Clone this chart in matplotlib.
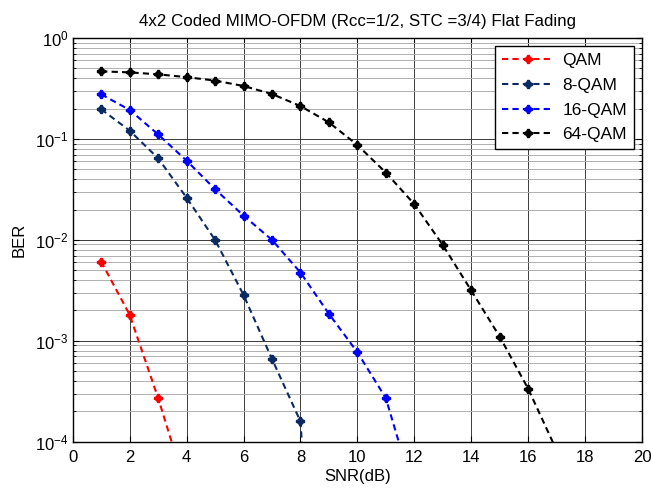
"""BER vs SNR for 4x2 coded MIMO-OFDM over a flat fading channel."""

import matplotlib

matplotlib.use("Agg")
import matplotlib.pyplot as plt  # noqa: E402
from matplotlib.legend_handler import HandlerTuple  # noqa: E402
from matplotlib.ticker import LogLocator, NullFormatter  # noqa: E402

plt.rcParams["font.family"] = ["Liberation Sans", "DejaVu Sans"]
plt.rcParams["mathtext.fontset"] = "custom"
plt.rcParams["mathtext.rm"] = "Liberation Sans"
plt.rcParams["mathtext.it"] = "Liberation Sans"

# simulated BER per modulation (SNR in dB)
snr_qam = [1, 2, 3, 4]
ber_qam = [6.1e-3, 1.81e-3, 2.71e-4, 3.3e-5]

snr_8qam = [1, 2, 3, 4, 5, 6, 7, 8, 9]
ber_8qam = [0.197, 0.121, 0.0644, 0.0262, 0.0100, 0.00285, 6.6e-4, 1.59e-4, 8e-9]

snr_16qam = [1, 2, 3, 4, 5, 6, 7, 8, 9, 10, 11, 12]
ber_16qam = [0.277, 0.194, 0.111, 0.061, 0.0318, 0.0174, 0.0100, 0.00475,
             0.00185, 7.7e-4, 2.7e-4, 3.0e-5]

snr_64qam = list(range(1, 18))
ber_64qam = [0.468, 0.457, 0.437, 0.41, 0.379, 0.335, 0.279, 0.212, 0.146,
             0.0872, 0.0464, 0.0226, 0.0089, 0.00315, 0.0011, 3.35e-4, 8.2e-5]

series = [
    ("QAM", snr_qam, ber_qam, "#ff0000"),
    ("8-QAM", snr_8qam, ber_8qam, "#0c2a62"),
    ("16-QAM", snr_16qam, ber_16qam, "#0000ff"),
    ("64-QAM", snr_64qam, ber_64qam, "#000000"),
]

fig = plt.figure(figsize=(6.51, 4.88), dpi=100)
ax = fig.add_axes([0.1117, 0.0949, 0.8745, 0.8271])

handles = []
labels = []
for name, x, y, col in series:
    (ln,) = ax.semilogy(x, y, color=col, lw=1.5, dashes=(3, 2), marker="D",
                        ms=4, mfc=col, mec=col, zorder=3)
    (pl,) = ax.semilogy(x, y, ls="none", marker="P", ms=6, color=col,
                        mec=col, zorder=4)
    handles.append((ln, pl))
    labels.append(name)

ax.set_xlim(0, 20)
ax.set_ylim(1e-4, 1)
ax.set_xticks(range(0, 21, 2))
ax.yaxis.set_major_locator(LogLocator(base=10, numticks=10))
ax.yaxis.set_minor_locator(LogLocator(base=10, subs=range(2, 10), numticks=10))
ax.yaxis.set_minor_formatter(NullFormatter())

ax.grid(True, which="major", color="#3a3a3a", lw=0.7)
ax.grid(True, which="minor", axis="y", color="#b0b0b0", lw=0.7)
ax.set_axisbelow(True)

ax.tick_params(which="both", direction="in", top=True, right=True,
               labelsize=12)
ax.tick_params(which="major", length=4)
ax.tick_params(which="minor", length=2)
ax.tick_params(axis="x", pad=6)
ax.tick_params(axis="y", pad=3)
for sp in ax.spines.values():
    sp.set_linewidth(1.0)

ax.set_xlabel("SNR(dB)", fontsize=12, labelpad=3)
ax.set_ylabel("BER", fontsize=12, labelpad=6)
ax.set_title("4x2 Coded MIMO-OFDM (Rcc=1/2, STC =3/4) Flat Fading",
             fontsize=12.2, pad=9)

leg = ax.legend(handles, labels, handler_map={tuple: HandlerTuple(ndivide=1)},
                loc="upper right", bbox_to_anchor=(0.986, 0.980), fontsize=12.5,
                fancybox=False, framealpha=1, edgecolor="black",
                borderaxespad=0, handlelength=3.0, handletextpad=0.46,
                borderpad=0.4, labelspacing=0.55)
leg.get_frame().set_linewidth(1.0)

fig.savefig("out.png", dpi=100)
